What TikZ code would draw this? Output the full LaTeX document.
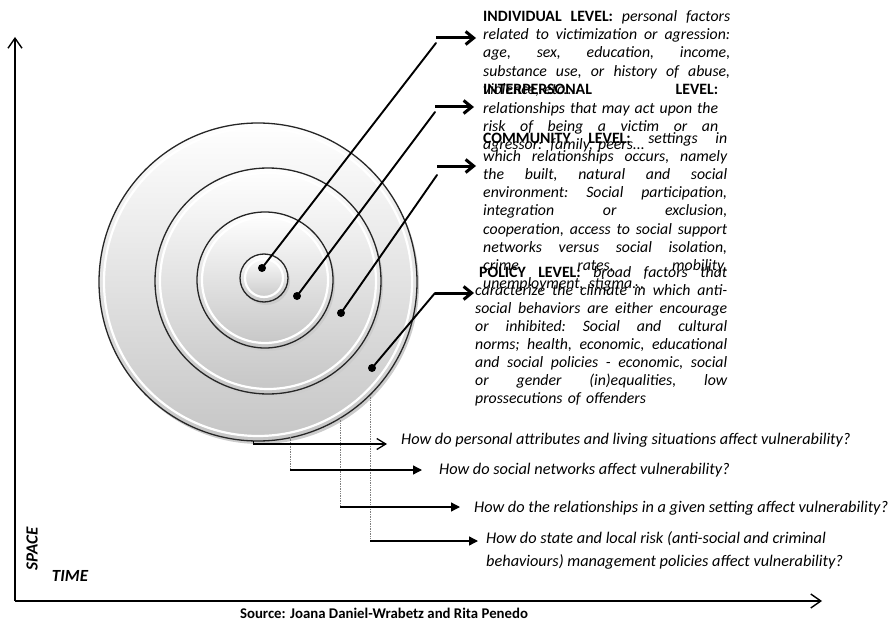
\documentclass[tikz,border=0pt]{standalone}
\usepackage{fontspec}
\setmainfont{Carlito}
\usetikzlibrary{arrows.meta}
\newcommand{\jline}[2]{\leavevmode\hbox to #1{\frenchspacing\spaceskip=0.22em plus 1fil minus 0.06em\relax\xspaceskip=\spaceskip #2}}
\newcommand{\lvl}[1]{\textbf{\upshape #1}}
\setlength{\parindent}{0pt}
\tikzset{
  blk/.style={anchor=base west, inner sep=0pt, align=left, font=\fontsize{15.8}{18.2}\selectfont\itshape},
  qtext/.style={anchor=west, inner sep=0pt, align=left, font=\fontsize{16.3}{23}\selectfont\itshape},
  axisline/.style={line width=1.4pt, -{Straight Barb[length=10pt,width=14pt]}},
  diag/.style={line width=1.9pt, line cap=round},
  levarrow/.style={line width=3pt, -{Straight Barb[length=8pt,width=13pt]}},
  qopen/.style={line width=1.3pt, -{Straight Barb[length=9pt,width=11pt]}},
  qfill/.style={line width=1.3pt, -{Triangle[length=9pt,width=9pt]}},
  guide/.style={gray, densely dotted, line width=0.7pt},
  ringshadow/.style={gray!40},
  ringline/.style={black!85, line width=1.3pt},
  ringlight/.style={white, line width=2.2pt},
}
\begin{document}
\begin{tikzpicture}[x=1pt,y=-1pt]
\useasboundingbox (0,0) rectangle (891,623);

% ---------------- axes
\coordinate (O) at (15,601);
\coordinate (ytip) at (15,37);
\coordinate (xtip) at (822,601);
\draw[axisline] (O) -- (ytip);
\draw[axisline] (O) -- (xtip);
\node[rotate=90, inner sep=0pt, font=\fontsize{17}{17}\selectfont\bfseries\itshape] (space) at (32,549) {SPACE};
\node[inner sep=0pt, font=\fontsize{17}{17}\selectfont\bfseries\itshape] (time) at (70,576) {TIME};
\node[inner sep=0pt, font=\fontsize{14.8}{15}\selectfont\bfseries] (src) at (384,613) {Source: Joana Daniel-Wrabetz and Rita Penedo};

% ---------------- circles
\coordinate (c4) at (258,282);
\coordinate (c3) at (268,281);
\coordinate (c2) at (265,280);
\coordinate (c1) at (264,278);
\foreach \c/\r in {c4/159, c3/113, c2/68, c1/24} {
  \fill[ringshadow] ([shift={(2,3)}]\c) circle[radius=\r pt];
  \shade[top color=white, bottom color=gray!45] (\c) circle[radius=\r pt];
  \draw[ringlight] (\c) circle[radius=\r pt - 5pt];
  \draw[ringline] (\c) circle[radius=\r pt];
}

% ---------------- guide lines and question arrows
\coordinate (g1) at (253,441);
\coordinate (g2) at (290,437);
\coordinate (g3) at (340,418);
\coordinate (g4) at (370,395);
\coordinate (h1) at (253,444);
\coordinate (h2) at (290,470);
\coordinate (h3) at (340,507);
\coordinate (h4) at (370,541);
\coordinate (t1) at (387,444);
\coordinate (t2) at (422,470);
\coordinate (t3) at (460,507);
\coordinate (t4) at (478,541);
\draw[guide] (g2) -- (h2);
\draw[guide] (g3) -- (h3);
\draw[guide] (g4) -- (h4);
\draw[line width=0.8pt] (g1) -- (h1);
\draw[qopen] (h1) -- (t1);
\draw[qfill] (h2) -- (t2);
\draw[qfill] (h3) -- (t3);
\draw[qfill] (h4) -- (t4);

\node[qtext] (q1) at (401,440) {How do personal attributes and living situations affect vulnerability?};
\node[qtext] (q2) at (439,470) {How do social networks affect vulnerability?};
\node[qtext] (q3) at (474,508) {How do the relationships in a given setting affect vulnerability?};
\node[qtext] (q4) at (486,550) {How do state and local risk (anti-social and criminal\\behaviours) management policies affect vulnerability?};

% ---------------- level pointers
\coordinate (d1) at (262,268);
\coordinate (d2) at (297,296);
\coordinate (d3) at (341,313);
\coordinate (d4) at (372,368);
\coordinate (e1) at (436,43);
\coordinate (e2) at (435,112);
\coordinate (e3) at (437,175);
\coordinate (e4) at (435,293);
\coordinate (b1) at (436,38);
\coordinate (b2) at (435,107);
\coordinate (b3) at (437,166);
\coordinate (b4) at (435,293);
\coordinate (a1) at (476,38);
\coordinate (a2) at (474,107);
\coordinate (a3) at (476,166);
\coordinate (a4) at (474,293);
\foreach \i in {1,2,3,4} {
  \draw[diag] (d\i) -- (e\i);
  \fill (d\i) circle[radius=4pt];
  \draw[levarrow] (b\i) -- (a\i);
}

% ---------------- level texts
\node[blk, text width=247pt] (ind) at (483,21.5) {%
\jline{247pt}{\lvl{INDIVIDUAL LEVEL:} personal factors}\\
\jline{247pt}{related to victimization or agression:}\\
\jline{247pt}{age, sex, education, income,}\\
\jline{247pt}{substance use, or history of abuse,}\\
violence, etc...};

\node[blk, text width=235pt] (inter) at (483,95) {%
\jline{235pt}{\lvl{INTERPERSONAL LEVEL:}}\\
\jline{235pt}{relationships that may act upon the}\\
\jline{235pt}{risk of being a victim or an}\\
agressor: family, peers...};

\node[blk, text width=244pt] (comm) at (483,143) {%
\jline{244pt}{\lvl{COMMUNITY LEVEL:} settings in}\\
\jline{244pt}{which relationships occurs, namely}\\
\jline{244pt}{the built, natural and social}\\
\jline{244pt}{environment: Social participation,}\\
\jline{244pt}{integration or exclusion,}\\
\jline{244pt}{cooperation, access to social support}\\
\jline{244pt}{networks versus social isolation,}\\
\jline{244pt}{crime rates, mobility,}\\
unemployment, stigma...};

\node[blk, text width=252pt, font=\fontsize{15.8}{18}\selectfont\itshape] (pol) at (475,277) {%
\hspace*{4pt}\jline{248pt}{\lvl{POLICY LEVEL:} broad factors that}\\
\jline{252pt}{caracterize the climate in which anti-}\\
\jline{252pt}{social behaviors are either encourage}\\
\jline{252pt}{or inhibited: Social and cultural}\\
\jline{252pt}{norms; health, economic, educational}\\
\jline{252pt}{and social policies - economic, social}\\
\jline{252pt}{or gender (in)equalities, low}\\
prossecutions of offenders};
\end{tikzpicture}
\end{document}
